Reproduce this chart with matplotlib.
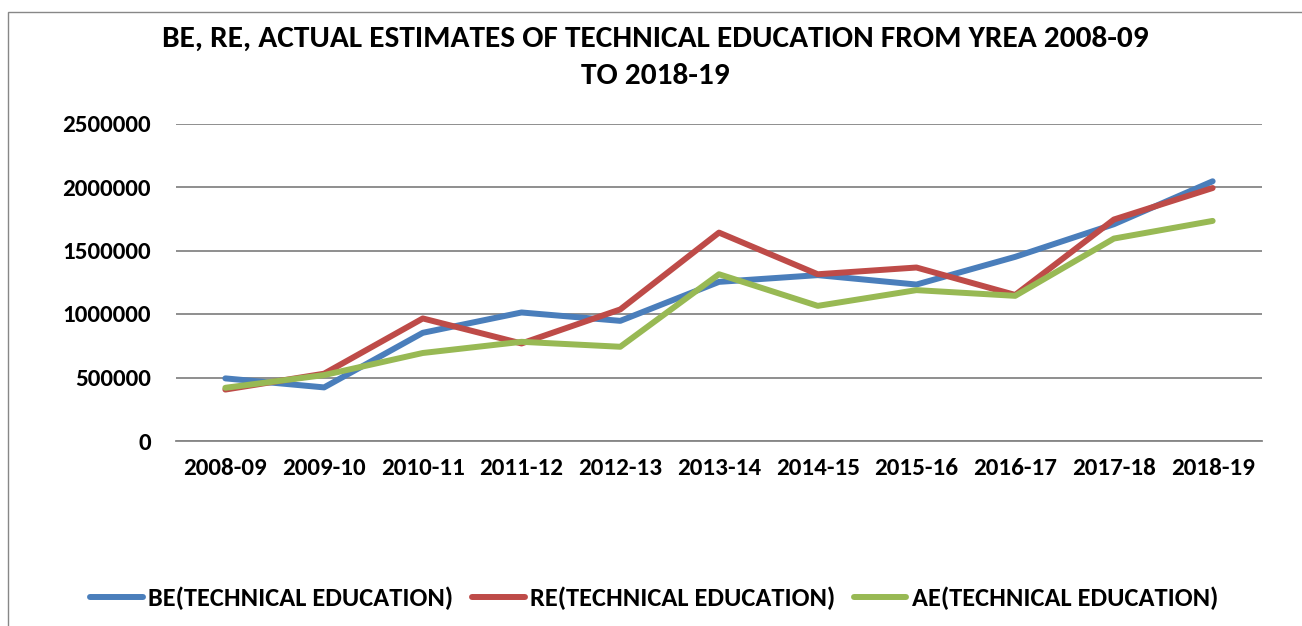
import matplotlib
matplotlib.use("Agg")
import matplotlib.pyplot as plt
from matplotlib.patches import Rectangle

years = ["2008-09", "2009-10", "2010-11", "2011-12", "2012-13", "2013-14",
         "2014-15", "2015-16", "2016-17", "2017-18", "2018-19"]
be_values = [493000, 422000, 852000, 1012000, 946000, 1253000,
             1306000, 1232000, 1450000, 1707000, 2045000]
re_values = [405000, 530000, 965000, 768000, 1036000, 1641000,
             1313000, 1366000, 1150000, 1744000, 1992000]
ae_values = [419000, 519000, 693000, 781000, 742000, 1313000,
             1064000, 1188000, 1143000, 1594000, 1733000]
series_names = ["BE(TECHNICAL EDUCATION)", "RE(TECHNICAL EDUCATION)",
                "AE(TECHNICAL EDUCATION)"]
y_ticks = [0, 500000, 1000000, 1500000, 2000000, 2500000]

plt.rcParams['font.family'] = ['Carlito', 'Lato', 'DejaVu Sans']
plt.rcParams['font.weight'] = 'bold'

W, H = 1302, 626
fig = plt.figure(figsize=(W / 100, H / 100), dpi=100)
ax = fig.add_axes([176 / W, (H - 441) / H, 1086 / W, 317.5 / H])

# outer chart frame (runs off the right / bottom edge)
fig.patches.append(Rectangle((8 / W, -0.2), 1.5, 1.2 - 12 / H,
                             transform=fig.transFigure, fill=False,
                             edgecolor="#878787", lw=1.0))

colors = ["#4A7EBB", "#BE4B48", "#98B954"]
x = list(range(len(years)))
for vals, c, name in zip([be_values, re_values, ae_values], colors, series_names):
    ax.plot(x, vals, color=c, lw=4.3, solid_capstyle="round", label=name)

ax.set_xlim(-0.5, len(years) - 0.5)
ax.set_ylim(0, 2500000)
ax.set_yticks(y_ticks)
ax.set_yticklabels([str(v) for v in y_ticks])
ax.set_xticks(x)
ax.set_xticklabels(years)
ax.tick_params(axis="both", length=0, labelsize=18)
ax.tick_params(axis="y", pad=18)
ax.tick_params(axis="x", pad=12)
ax.yaxis.grid(True, color="#868686", lw=1.3)
ax.set_axisbelow(True)
for s in ["top", "right", "left"]:
    ax.spines[s].set_visible(False)
ax.spines["bottom"].set_color("#868686")
ax.spines["bottom"].set_linewidth(1.3)

fig.text(655 / W, 1 - 57.5 / H,
         "BE, RE, ACTUAL ESTIMATES OF TECHNICAL EDUCATION FROM YREA 2008-09\nTO 2018-19",
         ha="center", va="center", fontsize=22.6, fontweight="bold",
         linespacing=1.55)

fig.legend(loc="center", bbox_to_anchor=(654 / W, 1 - 598 / H), ncol=3,
           frameon=False, fontsize=19, handlelength=2.0, handletextpad=0.2,
           columnspacing=0.7)

fig.savefig("out.png", dpi=100)
